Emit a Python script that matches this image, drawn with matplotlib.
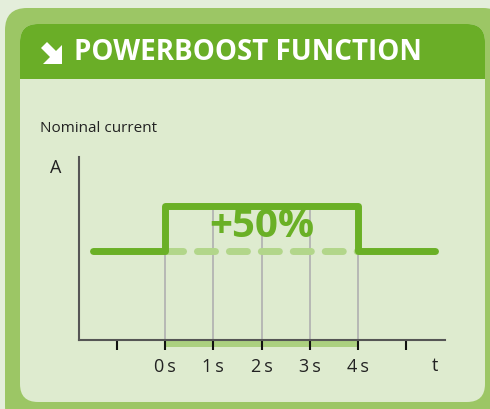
import matplotlib.pyplot as plt
from matplotlib.patches import FancyBboxPatch, Rectangle, Polygon

plt.rcParams['font.family'] = ['Open Sans', 'DejaVu Sans']

# data
time = [-1.5, 0, 0, 4, 4, 5.6]
current = [1.0, 1.0, 1.5, 1.5, 1.0, 1.0]
seconds = [0, 1, 2, 3, 4]
tick_pos = [-1, 0, 1, 2, 3, 4, 5]
tick_labels = ['', '0\u2009s', '1\u2009s', '2\u2009s', '3\u2009s', '4\u2009s', '']
boost_label = '+50%'

W, H = 490, 409
fig = plt.figure(figsize=(W / 100, H / 100), dpi=100)
fig.patch.set_facecolor('#e4eedb')

# background panel drawn in pixel coords
bg = fig.add_axes([0, 0, 1, 1])
bg.set_xlim(0, W)
bg.set_ylim(H, 0)
bg.axis('off')
bg.add_patch(FancyBboxPatch((5, 8), 500, 420, boxstyle='round,pad=0,rounding_size=22',
                            fc='#9cc665', ec='none'))
bg.add_patch(FancyBboxPatch((20, 24), 465, 378, boxstyle='round,pad=0,rounding_size=18',
                            fc='#deebcf', ec='none'))
bg.add_patch(FancyBboxPatch((20, 24), 465, 80, boxstyle='round,pad=0,rounding_size=18',
                            fc='#6aae27', ec='none'))
bg.add_patch(Rectangle((20, 79), 465, 30, fc='#deebcf', ec='none'))
# arrow icon
bg.add_patch(Polygon([(41, 48), (47, 42), (56, 51), (62, 45), (62, 64), (43, 64), (50, 57)],
                     closed=True, fc='white', ec='none'))
bg.text(74, 53, 'POWERBOOST FUNCTION', color='white', fontsize=20, fontweight='bold',
        va='center', ha='left')
bg.text(40, 129, 'Nominal current', color='#222222', fontsize=11, va='center', ha='left')
bg.text(56, 168, 'A', color='#222222', fontsize=13, va='center', ha='center')

# chart
x0, x1 = 79, 445
y0, y1 = 340, 157
ax = fig.add_axes([x0 / W, (H - y0) / H, (x1 - x0) / W, (y0 - y1) / H])
ax.set_facecolor('none')
ax.set_xlim(-1.78, 5.8)
ax.set_ylim(0, 2.056)

for s in seconds:
    ax.plot([s, s], [0, 1.5], color='#b0b0b0', lw=1.2, zorder=1)
ax.plot([seconds[0], seconds[-1]], [1, 1], color='#b2d68a', lw=5, ls=(0, (2.6, 2.0)),
        solid_capstyle='round', dash_capstyle='round', zorder=2)
ax.plot(time, current, color='#6ab026', lw=5, solid_capstyle='round',
        solid_joinstyle='round', zorder=3)
ax.add_patch(Rectangle((seconds[0], -0.08), seconds[-1] - seconds[0], 0.08,
                       fc='#abd07f', ec='none', clip_on=False, zorder=0))
ax.text(2, 1.27, boost_label, color='#6ab026', fontsize=29, fontweight='bold',
        ha='center', va='center', zorder=4)

for side in ['top', 'right']:
    ax.spines[side].set_visible(False)
for side in ['left', 'bottom']:
    ax.spines[side].set_color('#555555')
    ax.spines[side].set_linewidth(1.5)
ax.set_yticks([])
ax.set_xticks(tick_pos)
ax.set_xticklabels(tick_labels)
ax.tick_params(axis='x', direction='out', length=7, width=1.5, color='#111111',
               labelsize=13, labelcolor='#222222', pad=6)
ax.text(5.6, -0.29, 't', color='#222222', fontsize=13, ha='center', va='center')

fig.savefig('out.png', dpi=100, facecolor=fig.get_facecolor())
